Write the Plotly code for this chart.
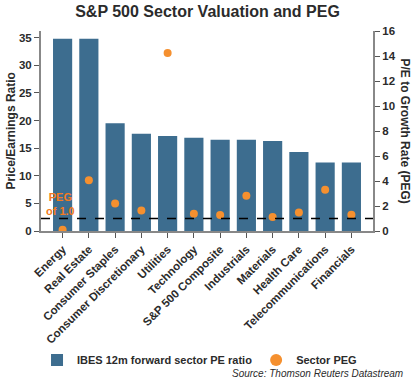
import plotly.graph_objects as go

categories = ["Energy", "Real Estate", "Consumer Staples", "Consumer Discretionary",
              "Utilities", "Technology", "S&P 500 Composite", "Industrials",
              "Materials", "Health Care", "Telecommunications", "Financials"]
pe_ratio = [34.8, 34.8, 19.5, 17.6, 17.2, 16.9, 16.5, 16.5, 16.3, 14.3, 12.4, 12.4]
peg = [0.1, 4.07, 2.2, 1.65, 14.25, 1.39, 1.28, 2.82, 1.12, 1.49, 3.3, 1.3]
left_ticks = [0, 5, 10, 15, 20, 25, 30, 35]
right_ticks = [0, 2, 4, 6, 8, 10, 12, 14, 16]
peg_line = 1.0

BAR = "#3d6d8f"
DOT = "#f5902f"
TXT = "#2b2b2b"
FONT = "Liberation Sans, Arial, sans-serif"

fig = go.Figure()
fig.add_trace(go.Bar(x=categories, y=pe_ratio, name="IBES 12m forward sector PE ratio",
                     marker=dict(color=BAR, line=dict(width=0)), yaxis="y", legend="legend"))
fig.add_trace(go.Scatter(x=categories, y=peg, name="Sector PEG", mode="markers",
                         marker=dict(color=DOT, size=8), yaxis="y2", legend="legend2"))

fig.add_shape(type="line", xref="paper", x0=0, x1=1, yref="y2", y0=peg_line, y1=peg_line,
              line=dict(color="black", width=1.5, dash="dash"))

tickf = dict(size=11.5, color=TXT, weight="bold")
legfont = dict(size=11, color=TXT, weight="bold")

fig.update_layout(
    width=415, height=380,
    margin=dict(l=41, r=42, t=31, b=149, autoexpand=False),
    paper_bgcolor="white", plot_bgcolor="white",
    font=dict(family=FONT, size=12, color=TXT),
    title=dict(text="<b>S&P 500 Sector Valuation and PEG</b>", x=0.5, xanchor="center",
               y=0.985, yanchor="top", font=dict(size=16, color=TXT)),
    bargap=0.27,
    showlegend=True,
    legend=dict(orientation="h", x=-0.012, xanchor="left", y=-0.645, yanchor="middle",
                font=legfont, itemsizing="constant", bgcolor="rgba(0,0,0,0)"),
    legend2=dict(orientation="h", x=0.648, xanchor="left", y=-0.645, yanchor="middle",
                 font=legfont, itemsizing="constant", bgcolor="rgba(0,0,0,0)"),
    xaxis=dict(tickangle=-45, showline=True, linecolor="#888", linewidth=2,
               ticks="outside", ticklen=5, tickcolor="#555", automargin=False,
               tickfont=tickf),
    yaxis=dict(range=[0, 36.2], tickvals=left_ticks, showline=True, linecolor="#888",
               linewidth=2, ticks="outside", ticklen=5, tickcolor="#555", showgrid=False,
               zeroline=False, tickfont=tickf, automargin=False),
    yaxis2=dict(range=[0, 16], tickvals=right_ticks, overlaying="y", side="right",
                showline=True, linecolor="#888", linewidth=2, ticks="outside", ticklen=5,
                tickcolor="#555", showgrid=False, zeroline=False, automargin=False,
                tickfont=tickf),
)

fig.add_annotation(text="<b>Price/Earnings Ratio</b>", textangle=-90, xref="paper",
                   yref="paper", x=-0.089, y=0.5, xanchor="center", yanchor="middle",
                   showarrow=False, font=dict(size=12, color=TXT))
fig.add_annotation(text="<b>P/E to Growth Rate (PEG)</b>", textangle=90, xref="paper",
                   yref="paper", x=1.095, y=0.5, xanchor="center", yanchor="middle",
                   showarrow=False, font=dict(size=12, color=TXT))
fig.add_annotation(text="<b>PEG<br>of 1.0</b>", xref="paper", yref="y2", x=0.06, y=2.2,
                   xanchor="center", yanchor="middle", showarrow=False,
                   font=dict(size=11, color="#f47b20"), align="center")
fig.add_annotation(text="<i>Source: Thomson Reuters Datastream</i>", xref="paper", yref="paper",
                   x=1.096, xanchor="right", y=-0.71, yanchor="middle", showarrow=False,
                   font=dict(size=10, color=TXT))

fig.write_html("out.html", config={"displayModeBar": False},
               post_script="document.body.style.margin='0';")
